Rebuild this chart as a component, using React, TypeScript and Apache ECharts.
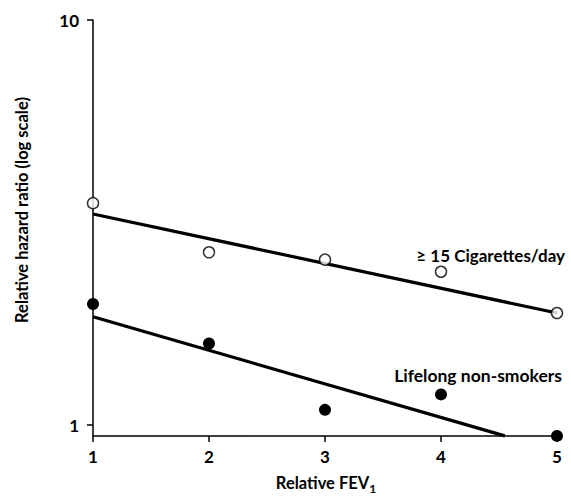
import React, { useEffect, useRef } from "react";
import * as echarts from "echarts";

const fevCategories = [1, 2, 3, 4, 5];
const smokersValues = [3.53, 2.67, 2.56, 2.39, 1.89];
const nonSmokersValues = [1.99, 1.59, 1.09, 1.19, 0.94];
const smokersFit = [
  [1, 3.32],
  [5, 1.89],
];
const nonSmokersFit = [
  [1, 1.85],
  [4.55, 0.94],
];
const yTickValues = [1, 10];
const FONT = "Lato";

export default function App() {
  const ref = useRef<HTMLDivElement>(null);
  useEffect(() => {
    if (!ref.current) return;
    const chart = echarts.init(ref.current, undefined, { renderer: "svg" });
    const labelStyle = { fontFamily: FONT, fontSize: 17, fontWeight: "bold" as any, color: "#000" };
    chart.setOption({
      animation: false,
      backgroundColor: "#fff",
      grid: { left: 93, right: 14, top: 20, bottom: 60 },
      xAxis: {
        type: "value",
        min: 1,
        max: 5,
        interval: 1,
        axisLine: { lineStyle: { color: "#000", width: 1.5 } },
        axisTick: { length: 6, lineStyle: { color: "#000", width: 1.5 } },
        axisLabel: { ...labelStyle, margin: 12 },
        splitLine: { show: false },
      },
      yAxis: {
        type: "log",
        logBase: 10,
        min: 0.9394,
        max: 10,
        axisLine: { show: true, lineStyle: { color: "#000", width: 1.5 } },
        axisTick: { show: true, length: 6, customValues: yTickValues, lineStyle: { color: "#000", width: 1.5 } },
        axisLabel: { ...labelStyle, margin: 14, customValues: yTickValues },
        splitLine: { show: false },
        minorTick: { show: false },
      },
      series: [
        {
          type: "line",
          data: smokersFit,
          symbol: "none",
          lineStyle: { color: "#000", width: 3.2 },
          clip: false,
          z: 2,
        },
        {
          type: "line",
          data: nonSmokersFit,
          symbol: "none",
          lineStyle: { color: "#000", width: 3.2 },
          clip: false,
          z: 2,
        },
        {
          type: "scatter",
          data: fevCategories.map((x, i) => [x, smokersValues[i]]),
          symbol: "circle",
          symbolSize: 11,
          itemStyle: { color: "#fff", borderColor: "#000", borderWidth: 1.5 },
          clip: false,
          z: 3,
        },
        {
          type: "scatter",
          data: fevCategories.map((x, i) => [x, nonSmokersValues[i]]),
          symbol: "circle",
          symbolSize: 12,
          itemStyle: { color: "#000", opacity: 1 },
          emphasis: { disabled: true },
          clip: false,
          z: 3,
        },
      ],
      graphic: [
        {
          type: "text",
          x: 22,
          y: 210,
          rotation: Math.PI / 2,
          style: {
            text: "Relative hazard ratio (log scale)",
            fontFamily: FONT,
            fontSize: 16.5,
            fontWeight: "bold",
            fill: "#000",
            align: "center",
            verticalAlign: "middle",
          },
        },
        {
          type: "text",
          x: 326,
          y: 483,
          style: {
            text: "Relative FEV{s|1}",
            fontFamily: FONT,
            fontSize: 16.5,
            fontWeight: "bold",
            fill: "#000",
            align: "center",
            verticalAlign: "middle",
            rich: {
              s: { fontFamily: FONT, fontSize: 12, fontWeight: "bold", fill: "#000", padding: [10, 0, 0, 0] },
            },
          },
        },
        {
          type: "text",
          x: 565,
          y: 255,
          style: {
            text: "≥ 15 Cigarettes/day",
            fontFamily: FONT,
            fontSize: 17,
            fontWeight: "bold",
            fill: "#000",
            align: "right",
            verticalAlign: "middle",
          },
        },
        {
          type: "text",
          x: 562,
          y: 375,
          style: {
            text: "Lifelong non-smokers",
            fontFamily: FONT,
            fontSize: 17.5,
            fontWeight: "bold",
            fill: "#000",
            align: "right",
            verticalAlign: "middle",
          },
        },
      ],
    });
    return () => chart.dispose();
  }, []);
  return <div ref={ref} style={{ width: 571, height: 496, position: "absolute", left: 0, top: 0 }} />;
}
